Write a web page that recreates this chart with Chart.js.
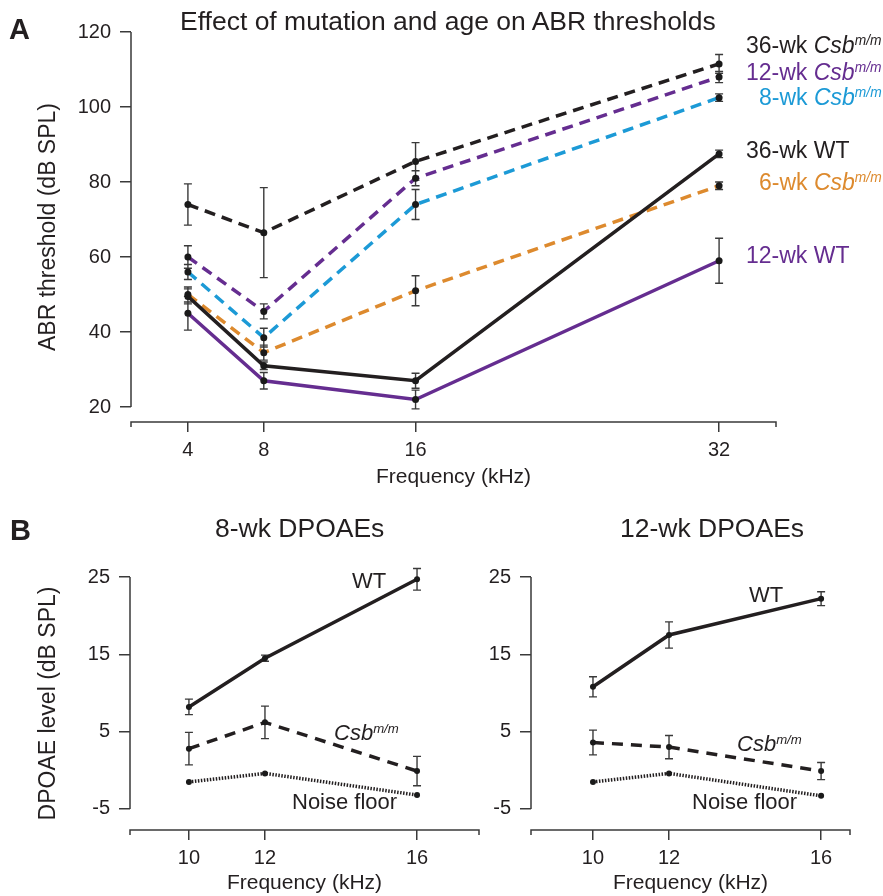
<!DOCTYPE html>
<html>
<head>
<meta charset="utf-8">
<script src="https://cdn.jsdelivr.net/npm/chart.js@4.4.1/dist/chart.umd.min.js"></script>
<style>
body{margin:0;background:#fff;font-family:"Liberation Sans",Arial,Helvetica,sans-serif;color:#231f20}
#wrap{position:relative;width:883px;height:896px;overflow:hidden}
canvas{position:absolute}
.t{position:absolute;line-height:1;white-space:nowrap}
.t i{font-style:italic}
.t sup{font-size:0.6em;vertical-align:0.55em;line-height:0;font-style:italic}
</style>
</head>
<body>
<div id="wrap">
  <canvas id="chartA" width="883" height="500" style="left:0;top:0"></canvas>
  <canvas id="chartB1" width="500" height="396" style="left:0;top:500px"></canvas>
  <canvas id="chartB2" width="443" height="396" style="left:440px;top:500px"></canvas>

  <div class="t" style="left:9px;top:15px;font-size:29px;font-weight:bold">A</div>
  <div class="t" style="left:10px;top:516px;font-size:29px;font-weight:bold">B</div>
  <div class="t" style="left:180px;top:8px;font-size:26.5px">Effect of mutation and age on ABR thresholds</div>

  <div class="t" style="left:746px;top:34px;font-size:23px;color:#231f20">36-wk <i>Csb</i><sup>m/m</sup></div>
  <div class="t" style="left:746px;top:61px;font-size:23px;color:#652d90">12-wk <i>Csb</i><sup>m/m</sup></div>
  <div class="t" style="left:759px;top:86px;font-size:23px;color:#1c9ad6">8-wk <i>Csb</i><sup>m/m</sup></div>
  <div class="t" style="left:746px;top:139px;font-size:23px;color:#231f20">36-wk WT</div>
  <div class="t" style="left:759px;top:171px;font-size:23px;color:#dd8a2e">6-wk <i>Csb</i><sup>m/m</sup></div>
  <div class="t" style="left:746px;top:244px;font-size:23px;color:#652d90">12-wk WT</div>

  <div class="t" style="left:215px;top:515px;font-size:26.5px">8-wk DPOAEs</div>
  <div class="t" style="left:620px;top:515px;font-size:26.5px">12-wk DPOAEs</div>

  <div class="t" style="left:352px;top:570px;font-size:22px">WT</div>
  <div class="t" style="left:334px;top:722px;font-size:22px"><i>Csb</i><sup>m/m</sup></div>
  <div class="t" style="left:292px;top:791px;font-size:22px">Noise floor</div>
  <div class="t" style="left:749px;top:584px;font-size:22px">WT</div>
  <div class="t" style="left:737px;top:733px;font-size:22px"><i>Csb</i><sup>m/m</sup></div>
  <div class="t" style="left:692px;top:791px;font-size:22px">Noise floor</div>
</div>
<script>
// A: ABR thresholds
const freq_A = [4, 8, 16, 32]
const ytick_A = [20, 40, 60, 80, 100, 120]
const csb36 = [74, 66.5, 85.5, 111.5]
const csb36_err = [5.5, 12, 5, 2.5]
const csb12 = [60, 45.5, 81, 108]
const csb12_err = [3, 2, 2, 1.5]
const csb8 = [56, 38.5, 74, 102.5]
const csb8_err = [2, 2.5, 4, 1]
const csb6 = [50, 34.5, 51, 79]
const csb6_err = [2, 2, 4, 1]
const wt36 = [49.5, 31, 27, 87.5]
const wt36_err = [2, 1, 2, 1]
const wt12 = [45, 27, 22, 59]
const wt12_err = [4.5, 2.2, 2.5, 6]

// B: DPOAE
const freq_B = [10, 12, 16]
const ytick_B = [-5, 5, 15, 25]
const wt_8wk = [8.2, 14.5, 24.7]
const wt_8wk_err = [1, 0.4, 1.4]
const csb_8wk = [2.8, 6.2, -0.1]
const csb_8wk_err = [2.1, 2.1, 1.9]
const noise_8wk = [-1.5, -0.4, -3.2]
const wt_12wk = [10.8, 17.5, 22.2]
const wt_12wk_err = [1.3, 1.7, 0.9]
const csb_12wk = [3.6, 3.0, -0.1]
const csb_12wk_err = [1.6, 1.5, 1.1]
const noise_12wk = [-1.5, -0.4, -3.3]

const FONT = '"Liberation Sans", Arial, Helvetica, sans-serif'
const TXT = '#231f20'
const AXIS_COL = '#3a3a3a'
const BLACK = '#231f20'
const PURPLE = '#652d90'
const BLUE = '#1c9ad6'
const ORANGE = '#dd8a2e'

const pts = (xs, ys) => xs.map((x, i) => ({x: x, y: ys[i]}))

const line_ds = (xs, ys, errs, color, dash, r) => ({
  data: pts(xs, ys),
  errors: errs,
  borderColor: color,
  borderWidth: 3.5,
  borderDash: dash,
  pointRadius: r,
  pointBackgroundColor: '#1a1a1a',
  pointBorderWidth: 0,
  fill: false,
  tension: 0,
  clip: false,
})

// 軸線・エラーバー
const axis_plugin = {
  id: 'axis_plugin',
  beforeDatasetsDraw(chart, args, opt) {
    const ctx = chart.ctx
    const xs = chart.scales.x
    const ys = chart.scales.y
    const a = chart.chartArea
    ctx.save()
    ctx.strokeStyle = AXIS_COL
    ctx.lineWidth = 1.5
    ctx.beginPath()
    ctx.moveTo(a.left, ys.getPixelForValue(opt.y_from))
    ctx.lineTo(a.left, ys.getPixelForValue(opt.y_to))
    ctx.moveTo(xs.left, a.bottom + 5)
    ctx.lineTo(xs.left, a.bottom)
    ctx.lineTo(xs.right, a.bottom)
    ctx.lineTo(xs.right, a.bottom + 5)
    ctx.stroke()

    ctx.lineWidth = 1.4
    ctx.beginPath()
    chart.data.datasets.forEach((ds, i) => {
      if (!ds.errors) return
      const meta = chart.getDatasetMeta(i)
      ds.data.forEach((p, j) => {
        const e = ds.errors[j]
        if (!e) return
        const x = meta.data[j].x
        const y1 = ys.getPixelForValue(p.y + e)
        const y2 = ys.getPixelForValue(p.y - e)
        ctx.moveTo(x, y1); ctx.lineTo(x, y2)
        ctx.moveTo(x - 4, y1); ctx.lineTo(x + 4, y1)
        ctx.moveTo(x - 4, y2); ctx.lineTo(x + 4, y2)
      })
    })
    ctx.stroke()
    ctx.restore()
  }
}

const scale_x = (min, max, ticks, h, title) => ({
  type: 'linear', min: min, max: max,
  afterBuildTicks: s => { s.ticks = ticks.map(v => ({value: v})) },
  afterFit: s => { s.height = h },
  border: {display: false},
  grid: {drawOnChartArea: false, drawTicks: true, tickLength: 10, color: AXIS_COL, lineWidth: 1.5},
  ticks: {font: {size: 20, family: FONT}, color: TXT, padding: 6, maxRotation: 0, autoSkip: false},
  title: {display: true, text: title, font: {size: 21, family: FONT}, color: TXT, padding: 0},
})

const scale_y = (min, max, ticks, w, title) => ({
  type: 'linear', min: min, max: max,
  afterBuildTicks: s => { s.ticks = ticks.map(v => ({value: v})) },
  afterFit: s => { s.width = w },
  border: {display: false},
  grid: {drawOnChartArea: false, drawTicks: true, tickLength: 11, color: AXIS_COL, lineWidth: 1.5},
  ticks: {font: {size: 20, family: FONT}, color: TXT, padding: 9, autoSkip: false},
  title: {display: !!title, text: title || '', font: {size: 23, family: FONT}, color: TXT, padding: 0},
})

const make_chart = (id, datasets, x_cfg, y_cfg, pad, y_range) => new Chart(document.getElementById(id), {
  type: 'line',
  data: {datasets: datasets},
  options: {
    responsive: false,
    animation: false,
    devicePixelRatio: 1,
    layout: {padding: pad},
    plugins: {legend: {display: false}, title: {display: false}, tooltip: {enabled: false},
      axis_plugin: {y_from: y_range[0], y_to: y_range[1]}},
    scales: {x: x_cfg, y: y_cfg},
  },
  plugins: [axis_plugin],
})

// A
make_chart('chartA', [
  line_ds(freq_A, wt12, wt12_err, PURPLE, [], 3.5),
  line_ds(freq_A, wt36, wt36_err, BLACK, [], 3.5),
  line_ds(freq_A, csb6, csb6_err, ORANGE, [11, 7], 3.5),
  line_ds(freq_A, csb8, csb8_err, BLUE, [11, 7], 3.5),
  line_ds(freq_A, csb12, csb12_err, PURPLE, [11, 7], 3.5),
  line_ds(freq_A, csb36, csb36_err, BLACK, [11, 7], 3.5),
], scale_x(1, 35, freq_A, 68, 'Frequency (kHz)'),
   scale_y(16, 120, ytick_A, 96, 'ABR threshold (dB SPL)'),
   {left: 35, top: 32, right: 107, bottom: 10}, [20, 120])

// B 8-wk
make_chart('chartB1', [
  line_ds(freq_B, noise_8wk, null, BLACK, [1.5, 1.5], 3),
  line_ds(freq_B, csb_8wk, csb_8wk_err, BLACK, [11, 8], 3),
  line_ds(freq_B, wt_8wk, wt_8wk_err, BLACK, [], 3),
], scale_x(8.45, 17.63, freq_B, 66, 'Frequency (kHz)'),
   scale_y(-7.72, 25, ytick_B, 95, 'DPOAE level (dB SPL)'),
   {left: 35, top: 77, right: 21, bottom: 0}, [-5, 25])

// B 12-wk
make_chart('chartB2', [
  line_ds(freq_B, noise_12wk, null, BLACK, [1.5, 1.5], 3),
  line_ds(freq_B, csb_12wk, csb_12wk_err, BLACK, [11, 8], 3),
  line_ds(freq_B, wt_12wk, wt_12wk_err, BLACK, [], 3),
], scale_x(8.37, 16.76, freq_B, 66, 'Frequency (kHz)'),
   scale_y(-7.72, 25, ytick_B, 91, ''),
   {left: 0, top: 77, right: 33, bottom: 0}, [-5, 25])
</script>
</body>
</html>
